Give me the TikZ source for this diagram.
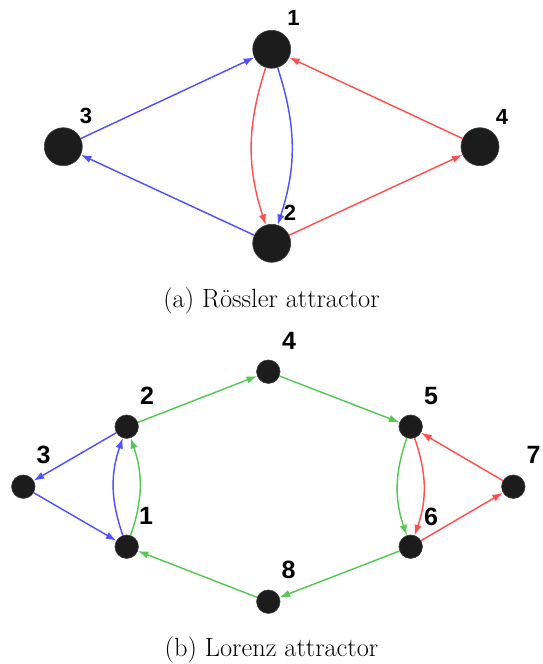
\documentclass[tikz,border=0pt]{standalone}
\usepackage{fontspec}
\newfontfamily\labfont{Liberation Sans}
\usetikzlibrary{arrows.meta}
\definecolor{eblue}{RGB}{80,80,255}
\definecolor{ered}{RGB}{255,80,80}
\definecolor{egreen}{RGB}{85,200,85}
\definecolor{nodefill}{RGB}{28,28,28}
\begin{document}
\begin{tikzpicture}[x=1pt,y=-1pt,
  bignode/.style={circle,fill=nodefill,draw=nodefill!85!white,line width=0.6pt,minimum size=38pt,inner sep=0pt},
  smallnode/.style={circle,fill=nodefill,draw=nodefill!85!white,line width=0.6pt,minimum size=23.5pt,inner sep=0pt},
  toplab/.style={font=\labfont\bfseries\fontsize{22}{22}\selectfont,inner sep=0pt},
  botlab/.style={font=\labfont\bfseries\fontsize{25}{25}\selectfont,inner sep=0pt},
  edge/.style={line width=1.45pt,-{Latex[length=10.5pt,width=7.5pt]}},
  caption/.style={font=\fontsize{26.4}{30}\selectfont,inner sep=0pt}
]
\useasboundingbox (0,0) rectangle (543,664);

% ---- (a) Rossler ----
\node[bignode] (a1) at (271.7,49.3) {};
\node[bignode] (a2) at (271.7,243.3) {};
\node[bignode] (a3) at (63.3,146.7) {};
\node[bignode] (a4) at (480,146.7) {};
\node[toplab] (la1) at (293.5,18) {1};
\node[toplab] (la2) at (290,213) {2};
\node[toplab] (la3) at (86,116) {3};
\node[toplab] (la4) at (502,117) {4};

\draw[edge,eblue] (a3) -- (a1);
\draw[edge,eblue] (a2) -- (a3);
\draw[edge,ered] (a1) to[bend right=18] (a2);
\draw[edge,eblue] (a1) to[bend left=18] (a2);
\draw[edge,ered] (a2) -- (a4);
\draw[edge,ered] (a4) -- (a1);

\node[caption] (capa) at (271.5,301) {(a) Rössler attractor};

% ---- (b) Lorenz ----
\node[smallnode] (b1) at (126.7,546.7) {};
\node[smallnode] (b2) at (126.7,426.7) {};
\node[smallnode] (b3) at (23.3,486.7) {};
\node[smallnode] (b4) at (268.3,371.7) {};
\node[smallnode] (b5) at (410.7,426.7) {};
\node[smallnode] (b6) at (410.7,546.7) {};
\node[smallnode] (b7) at (513.3,486.7) {};
\node[smallnode] (b8) at (268.3,601.7) {};
\node[botlab] (lb1) at (146,516) {1};
\node[botlab] (lb2) at (147,396) {2};
\node[botlab] (lb3) at (43.5,455) {3};
\node[botlab] (lb4) at (289,341) {4};
\node[botlab] (lb5) at (431,396.5) {5};
\node[botlab] (lb6) at (431,516.5) {6};
\node[botlab] (lb7) at (533.5,455) {7};
\node[botlab] (lb8) at (288.5,570) {8};

\draw[edge,egreen] (b2) -- (b4);
\draw[edge,egreen] (b4) -- (b5);
\draw[edge,egreen] (b6) -- (b8);
\draw[edge,egreen] (b8) -- (b1);
\draw[edge,eblue] (b2) -- (b3);
\draw[edge,eblue] (b3) -- (b1);
\draw[edge,eblue] (b1) to[bend left=19] (b2);
\draw[edge,egreen] (b1) to[bend right=19] (b2);
\draw[edge,egreen] (b5) to[bend right=19] (b6);
\draw[edge,ered] (b5) to[bend left=19] (b6);
\draw[edge,ered] (b6) -- (b7);
\draw[edge,ered] (b7) -- (b5);

\node[caption] (capb) at (271.5,650) {(b) Lorenz attractor};
\end{tikzpicture}
\end{document}
